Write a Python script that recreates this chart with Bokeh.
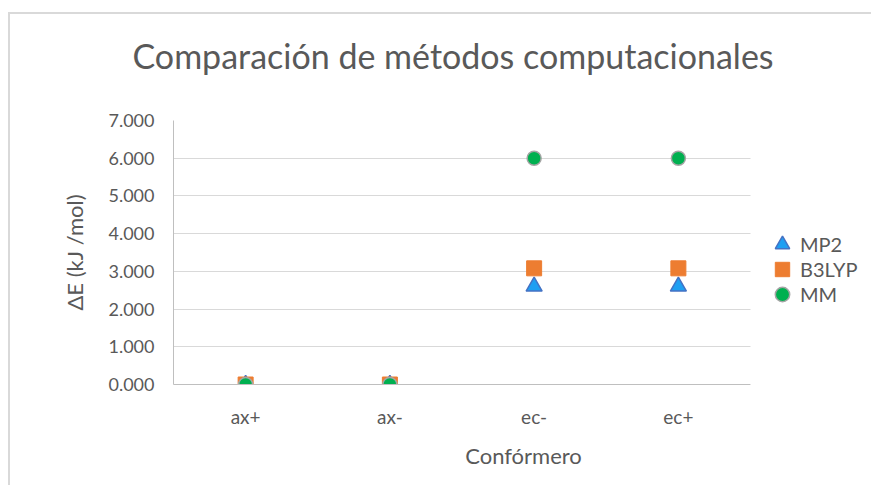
from bokeh.plotting import figure
from bokeh.models import (ColumnDataSource, Legend, LegendItem, Title, BoxAnnotation,
                          PrintfTickFormatter, FixedTicker, Range1d)
from bokeh.embed import file_html
from bokeh.resources import INLINE

categories = ["ax+", "ax-", "ec-", "ec+"]
mp2 = [0.0, 0.0, 2.6, 2.6]
b3lyp = [0.0, 0.0, 3.08, 3.08]
mm = [0.0, 0.0, 6.0, 6.0]
series_names = ["MP2", "B3LYP", "MM"]
y_ticks = [0, 1, 2, 3, 4, 5, 6, 7]

FONT = "Lato"
GREY = "#595959"

n = len(categories)
xpos = [i + 0.5 for i in range(n)]          # category centres
cat_px = 144.25                               # pixels per category slot
frame_w = 863 - 163
x_end = frame_w / cat_px                      # frame also holds the legend area

p = figure(width=863, height=473, x_range=Range1d(0, x_end), y_range=Range1d(0, 7),
           output_backend="svg", toolbar_location=None,
           min_border_left=163, min_border_right=0,
           min_border_top=106, min_border_bottom=103,
           styles={"margin-left": "8px", "margin-top": "12px",
                   "border-top": "2px solid #d9d9d9",
                   "border-left": "2px solid #d9d9d9"})
p.outline_line_color = None
p.background_fill_color = "white"
p.border_fill_color = "white"

src = ColumnDataSource(dict(x=xpos, mp2=mp2, b3lyp=b3lyp, mm=mm))
r1 = p.scatter("x", "mp2", source=src, marker="triangle", size=16,
               fill_color="#1e9ff2", line_color="#4472c4", line_width=1.5)
r2 = p.scatter("x", "b3lyp", source=src, marker="square", size=15,
               fill_color="#ed7d31", line_color="#ed7d31", line_width=1)
r3 = p.scatter("x", "mm", source=src, marker="circle", size=14,
               fill_color="#00b050", line_color="#a5a5a5", line_width=1.5)

# axes
p.yaxis.ticker = FixedTicker(ticks=y_ticks)
p.yaxis.formatter = PrintfTickFormatter(format="%.3f")
p.xaxis.ticker = FixedTicker(ticks=xpos)
p.xaxis.major_label_overrides = {x: c for x, c in zip(xpos, categories)}
p.xaxis.bounds = (0, n)
for ax in (p.xaxis, p.yaxis):
    ax.major_tick_line_color = None
    ax.minor_tick_line_color = None
    ax.major_label_text_font = FONT
    ax.major_label_text_color = GREY
    ax.axis_label_text_font = FONT
    ax.axis_label_text_font_size = "22px"
    ax.axis_label_text_color = GREY
    ax.axis_label_text_font_style = "normal"
p.xaxis.major_label_text_font_size = "19px"
p.yaxis.major_label_text_font_size = "18px"
p.yaxis.axis_line_color = "#bfbfbf"
p.xaxis.axis_line_color = "#bfbfbf"
p.yaxis.major_label_standoff = 13
p.xaxis.major_label_standoff = 14
p.yaxis.axis_label = "ΔE (kJ /mol)"
p.xaxis.axis_label = "Confórmero"
p.yaxis.axis_label_standoff = 17
p.xaxis.axis_label_standoff = 11

p.xgrid.grid_line_color = None
p.ygrid.grid_line_color = "#d9d9d9"
p.ygrid.grid_line_width = 1

# white area to the right of the plot area (holds the legend)
p.add_layout(BoxAnnotation(left=n, fill_color="white", fill_alpha=1,
                           line_color=None))

# title, with a blank spacer between it and the plot area
p.add_layout(Title(text=" ", text_font_size="2px", standoff=41), "above")
p.title = Title(text="Comparación de métodos computacionales", align="left",
                offset=-41, standoff=0, text_font=FONT, text_font_size="34px",
                text_color=GREY, text_font_style="normal")

for i, (s, r) in enumerate(zip(series_names, [r1, r2, r3])):
    lg = Legend(items=[LegendItem(label=s, renderers=[r])],
                location=(591, 122 - 25 * i), orientation="vertical",
                label_text_font=FONT, label_text_font_size="20px",
                label_text_color=GREY, glyph_width=36, glyph_height=36,
                spacing=0, label_standoff=0, padding=0, margin=0,
                border_line_color=None, background_fill_alpha=0)
    p.add_layout(lg, "center")

open("out.html", "w").write(file_html(p, INLINE))
